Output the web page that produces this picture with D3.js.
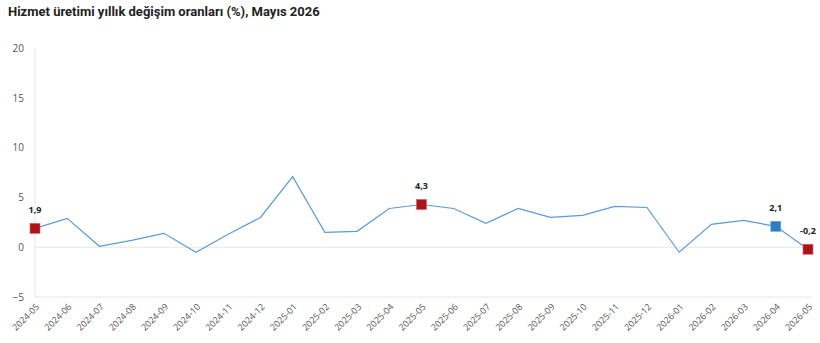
<!DOCTYPE html>
<html><head><meta charset="utf-8">
<script src="https://cdn.jsdelivr.net/npm/d3@7"></script>
<style>body{margin:0;background:#fff;}svg{display:block;font-family:"Open Sans",sans-serif;}</style>
</head><body><svg id="c" width="820" height="343"></svg>
<script>
const categories = ["2024-05","2024-06","2024-07","2024-08","2024-09","2024-10","2024-11","2024-12","2025-01","2025-02","2025-03","2025-04","2025-05","2025-06","2025-07","2025-08","2025-09","2025-10","2025-11","2025-12","2026-01","2026-02","2026-03","2026-04","2026-05"];
const values = [1.9,2.9,0.1,0.7,1.4,-0.5,1.3,3.0,7.1,1.5,1.6,3.9,4.3,3.9,2.4,3.9,3.0,3.2,4.1,4.0,-0.5,2.3,2.7,2.1,-0.2];
const yTicks = [-5,0,5,10,15,20];
const redMarks = ["2024-05","2025-05","2026-05"];
const blueMarks = ["2026-04"];
const title = "Hizmet üretimi yıllık değişim oranları (%), Mayıs 2026";

const svg = d3.select("#c");
const x = d3.scalePoint().domain(categories).range([35, 808]);
const y = d3.scaleLinear().domain([-5, 20]).range([297, 48.3]);

svg.append("text").attr("x", 8).attr("y", 16).attr("font-family","Roboto, sans-serif").attr("font-weight", "bold").attr("font-size", 13).attr("fill", "#222").text(title);

// axis lines
svg.append("line").attr("x1", 35).attr("x2", 35).attr("y1", y(20)).attr("y2", y(-5)).attr("stroke", "#e6e6e6");
svg.append("line").attr("x1", 35).attr("x2", 812).attr("y1", y(-5)).attr("y2", y(-5)).attr("stroke", "#e6e6e6");
svg.append("line").attr("x1", 35).attr("x2", 812).attr("y1", y(0)).attr("y2", y(0)).attr("stroke", "#e6e6e6");

const yAxis = d3.axisLeft(y).tickValues(yTicks).tickSize(0).tickPadding(0).tickFormat(d3.format("d"));
const ga = svg.append("g").attr("transform", "translate(24,0)").call(yAxis);
ga.select(".domain").remove();
ga.selectAll("text").attr("font-size", 10).attr("fill", "#555").attr("font-family","Open Sans, sans-serif");

const xAxis = d3.axisBottom(x).tickSize(0).tickPadding(0);
const gx = svg.append("g").attr("transform", "translate(0,303)").call(xAxis);
gx.select(".domain").remove();
gx.selectAll("text").attr("font-size", 9).attr("fill", "#555").attr("font-family","Open Sans, sans-serif")
  .attr("text-anchor", "end").attr("dy", "0.7em").attr("dx", 0)
  .attr("transform", "rotate(-45)");

const line = d3.line().x((d, i) => x(categories[i])).y(d => y(d));
svg.append("path").datum(values).attr("d", line).attr("fill", "none").attr("stroke", "#5b9bd5").attr("stroke-width", 1.2);

const marks = categories.map((c, i) => ({c, v: values[i]})).filter(d => redMarks.includes(d.c) || blueMarks.includes(d.c));
svg.selectAll("rect.m").data(marks).enter().append("rect")
  .attr("x", d => x(d.c) - 5).attr("y", d => y(d.v) - 5).attr("width", 10).attr("height", 10)
  .attr("fill", d => redMarks.includes(d.c) ? "#b01219" : "#2e7ebf")
  .attr("stroke", d => redMarks.includes(d.c) ? "#d4626a" : "#6aa4d6").attr("stroke-width", 0.6);
svg.selectAll("text.l").data(marks).enter().append("text")
  .attr("x", d => x(d.c)).attr("y", d => y(d.v) - 15)
  .attr("text-anchor", "middle").attr("font-size", 9).attr("font-weight", "bold").attr("fill", "#222")
  .attr("font-family","Open Sans, sans-serif")
  .text(d => d3.format(".1f")(d.v).replace(".", ",").replace("−","-"));
</script></body></html>
